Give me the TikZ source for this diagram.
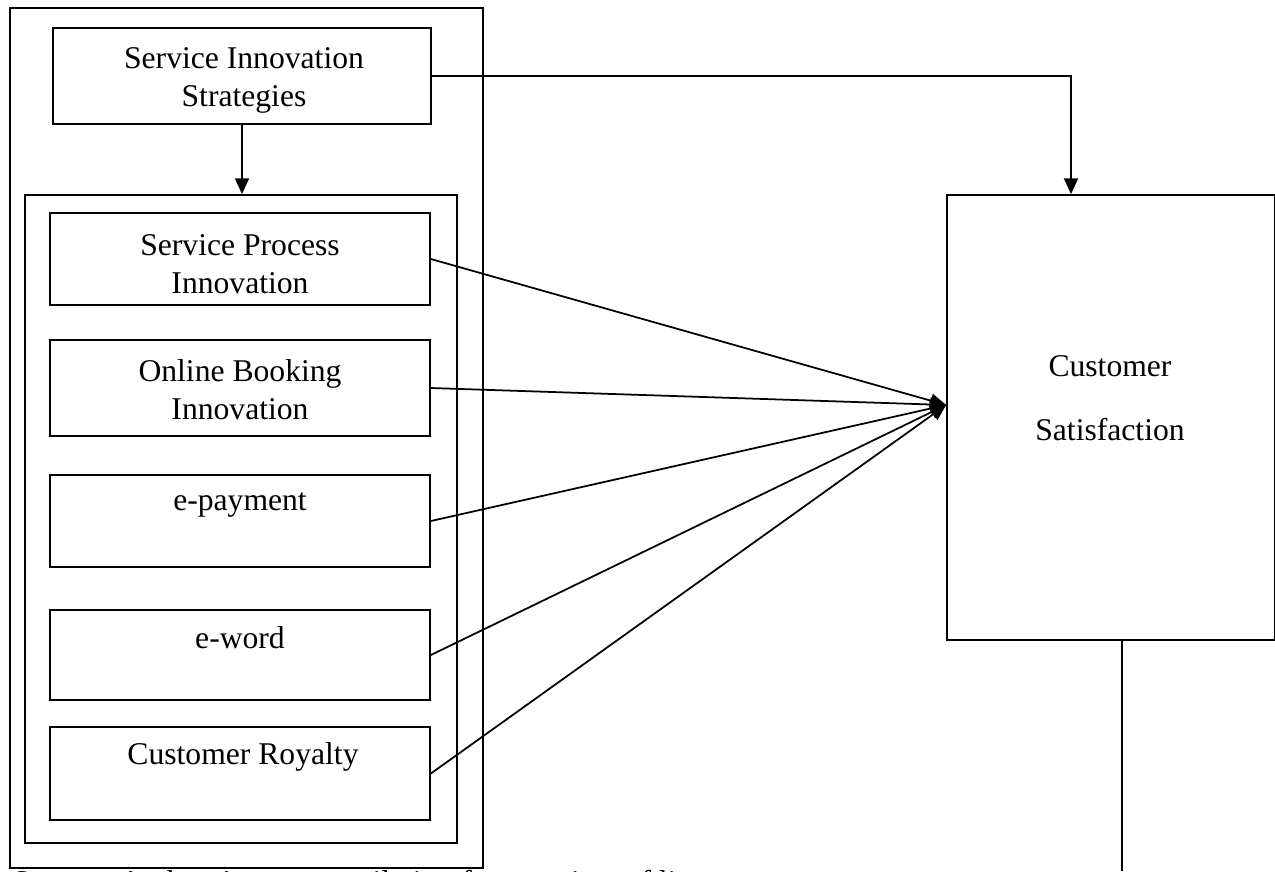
\documentclass[tikz,border=0pt]{standalone}
\usepackage{fontspec}
\setmainfont{Liberation Serif}
\usetikzlibrary{arrows.meta}

\tikzset{
  box/.style={draw,line width=1pt,inner sep=0pt},
  txt/.style={font=\fontsize{18}{21.6}\selectfont,align=center,inner sep=0pt},
  arr/.style={line width=1pt,-{Triangle[length=9pt,width=8pt]}}
}

\begin{document}
\begin{tikzpicture}[x=0.2mm,y=-0.2mm]
      \useasboundingbox (0,0) rectangle (1275,871);
      \clip (0,0) rectangle (1275,871);

      \path
      (246.5,438) node[box,minimum width=473*0.2mm,minimum height=860*0.2mm](outer) {}
      (242,76) node[box,minimum width=378*0.2mm,minimum height=96*0.2mm](sis) {}
      (241,519) node[box,minimum width=432*0.2mm,minimum height=648*0.2mm](inner) {}
      (240,259) node[box,minimum width=380*0.2mm,minimum height=92*0.2mm](spi) {}
      (240,388) node[box,minimum width=380*0.2mm,minimum height=96*0.2mm](obi) {}
      (240,521) node[box,minimum width=380*0.2mm,minimum height=92*0.2mm](epay) {}
      (240,655) node[box,minimum width=380*0.2mm,minimum height=90*0.2mm](eword) {}
      (240,773.5) node[box,minimum width=380*0.2mm,minimum height=93*0.2mm](royal) {}
      (1111,417.5) node[box,minimum width=328*0.2mm,minimum height=445*0.2mm](cs) {}
      ;

      \path
      (244,80) node[txt](sist) {Service Innovation\\Strategies}
      (240,264) node[txt](spit) {Service Process\\Innovation}
      (240,390) node[txt](obit) {Online Booking\\Innovation}
      (240,505) node[txt](epayt) {e-payment}
      (240,638) node[txt](ewordt) {e-word}
      (243,757) node[txt](royalt) {Customer Royalty}
      (1110,366) node[txt](cst1) {Customer}
      (1110,430) node[txt](cst2) {Satisfaction}
      (12,892) node[txt,anchor=base west](src) {Source: Authors' own compilation from review of literature}
      ;

      \coordinate (hit) at (cs.west |- 0,405);
      \coordinate (bend) at (1071,76);
      \coordinate (down) at (1122,871);

      \draw[arr] (sis.south) -- (sis.south |- inner.north);
      \draw[arr] (sis.east) -- (bend) -- (bend |- cs.north);

      \draw[arr] (spi.east) -- (hit);
      \draw[arr] (obi.east) -- (hit);
      \draw[arr] (epay.east) -- (hit);
      \draw[arr] (eword.east) -- (hit);
      \draw[arr] (royal.east) -- (hit);

      \draw[line width=1pt] (cs.south -| down) -- (down);
    \end{tikzpicture}
\end{document}
